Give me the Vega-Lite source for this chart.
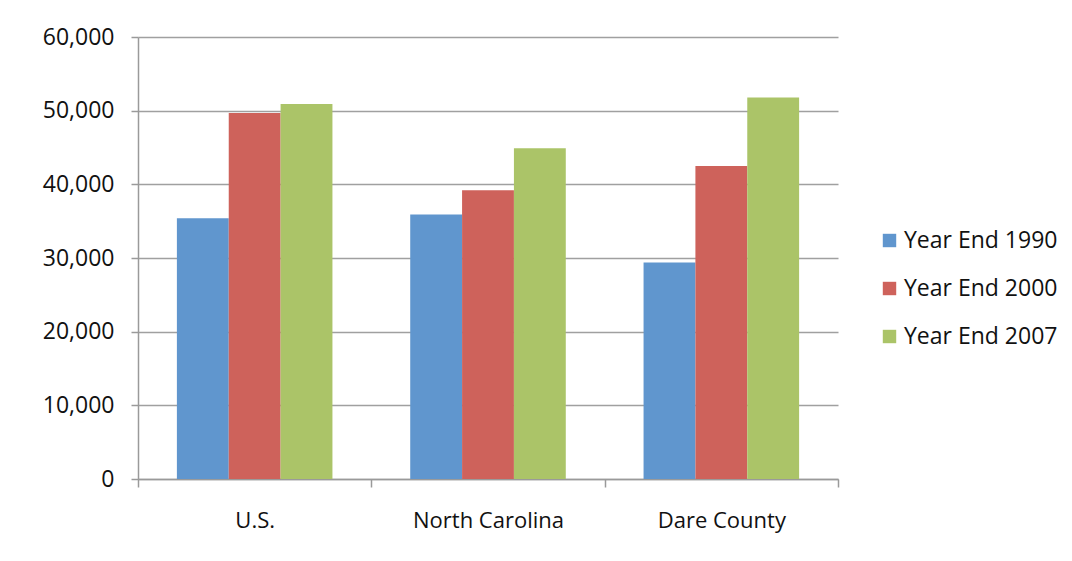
{
  "$schema": "https://vega.github.io/schema/vega-lite/v6.json",
  "width": 700,
  "height": 442,
  "autosize": "none",
  "padding": {"left": 138, "top": 37, "right": 234, "bottom": 82},
  "background": "white",
  "data": {"values": [
    {"region": "U.S.", "series": "Year End 1990", "value": 35400},
    {"region": "U.S.", "series": "Year End 2000", "value": 49700},
    {"region": "U.S.", "series": "Year End 2007", "value": 50900},
    {"region": "North Carolina", "series": "Year End 1990", "value": 35900},
    {"region": "North Carolina", "series": "Year End 2000", "value": 39200},
    {"region": "North Carolina", "series": "Year End 2007", "value": 44900},
    {"region": "Dare County", "series": "Year End 1990", "value": 29400},
    {"region": "Dare County", "series": "Year End 2000", "value": 42500},
    {"region": "Dare County", "series": "Year End 2007", "value": 51800}
  ]},
  "mark": {"type": "bar"},
  "encoding": {
    "x": {
      "field": "region", "type": "nominal",
      "sort": ["U.S.", "North Carolina", "Dare County"],
      "scale": {"paddingInner": 0, "paddingOuter": 0},
      "axis": {
        "title": null, "labelAngle": 0, "domainColor": "#9a9a9a", "domainWidth": 1.5,
        "tickColor": "#9a9a9a", "tickWidth": 1.5, "tickSize": 8, "tickBand": "extent",
        "labelFont": "Open Sans", "labelFontSize": 22, "labelColor": "#111111",
        "labelPadding": 23, "grid": false
      }
    },
    "xOffset": {
      "field": "series", "type": "nominal",
      "scale": {"paddingInner": 0, "paddingOuter": 0.75}
    },
    "y": {
      "field": "value", "type": "quantitative",
      "scale": {"domain": [0, 60000]},
      "axis": {
        "title": null, "values": [0, 10000, 20000, 30000, 40000, 50000, 60000],
        "format": ",d", "domainColor": "#9a9a9a", "domainWidth": 1.5,
        "tickColor": "#9a9a9a", "tickWidth": 1.5, "tickSize": 7,
        "gridColor": "#a0a0a0", "gridWidth": 1.5,
        "labelFont": "Open Sans", "labelFontSize": 23, "labelColor": "#111111",
        "labelPadding": 17
      }
    },
    "color": {
      "field": "series", "type": "nominal",
      "scale": {"domain": ["Year End 1990", "Year End 2000", "Year End 2007"],
                "range": ["#6096ce", "#ce625b", "#abc468"]},
      "legend": {
        "title": null, "orient": "none", "legendX": 740, "legendY": 192,
        "symbolType": "square", "symbolSize": 180, "symbolStrokeWidth": 0,
        "labelFont": "Open Sans", "labelFontSize": 23, "labelColor": "#111111",
        "rowPadding": 24, "labelOffset": 3, "labelLimit": 300
      }
    }
  },
  "config": {"view": {"stroke": null}}
}
